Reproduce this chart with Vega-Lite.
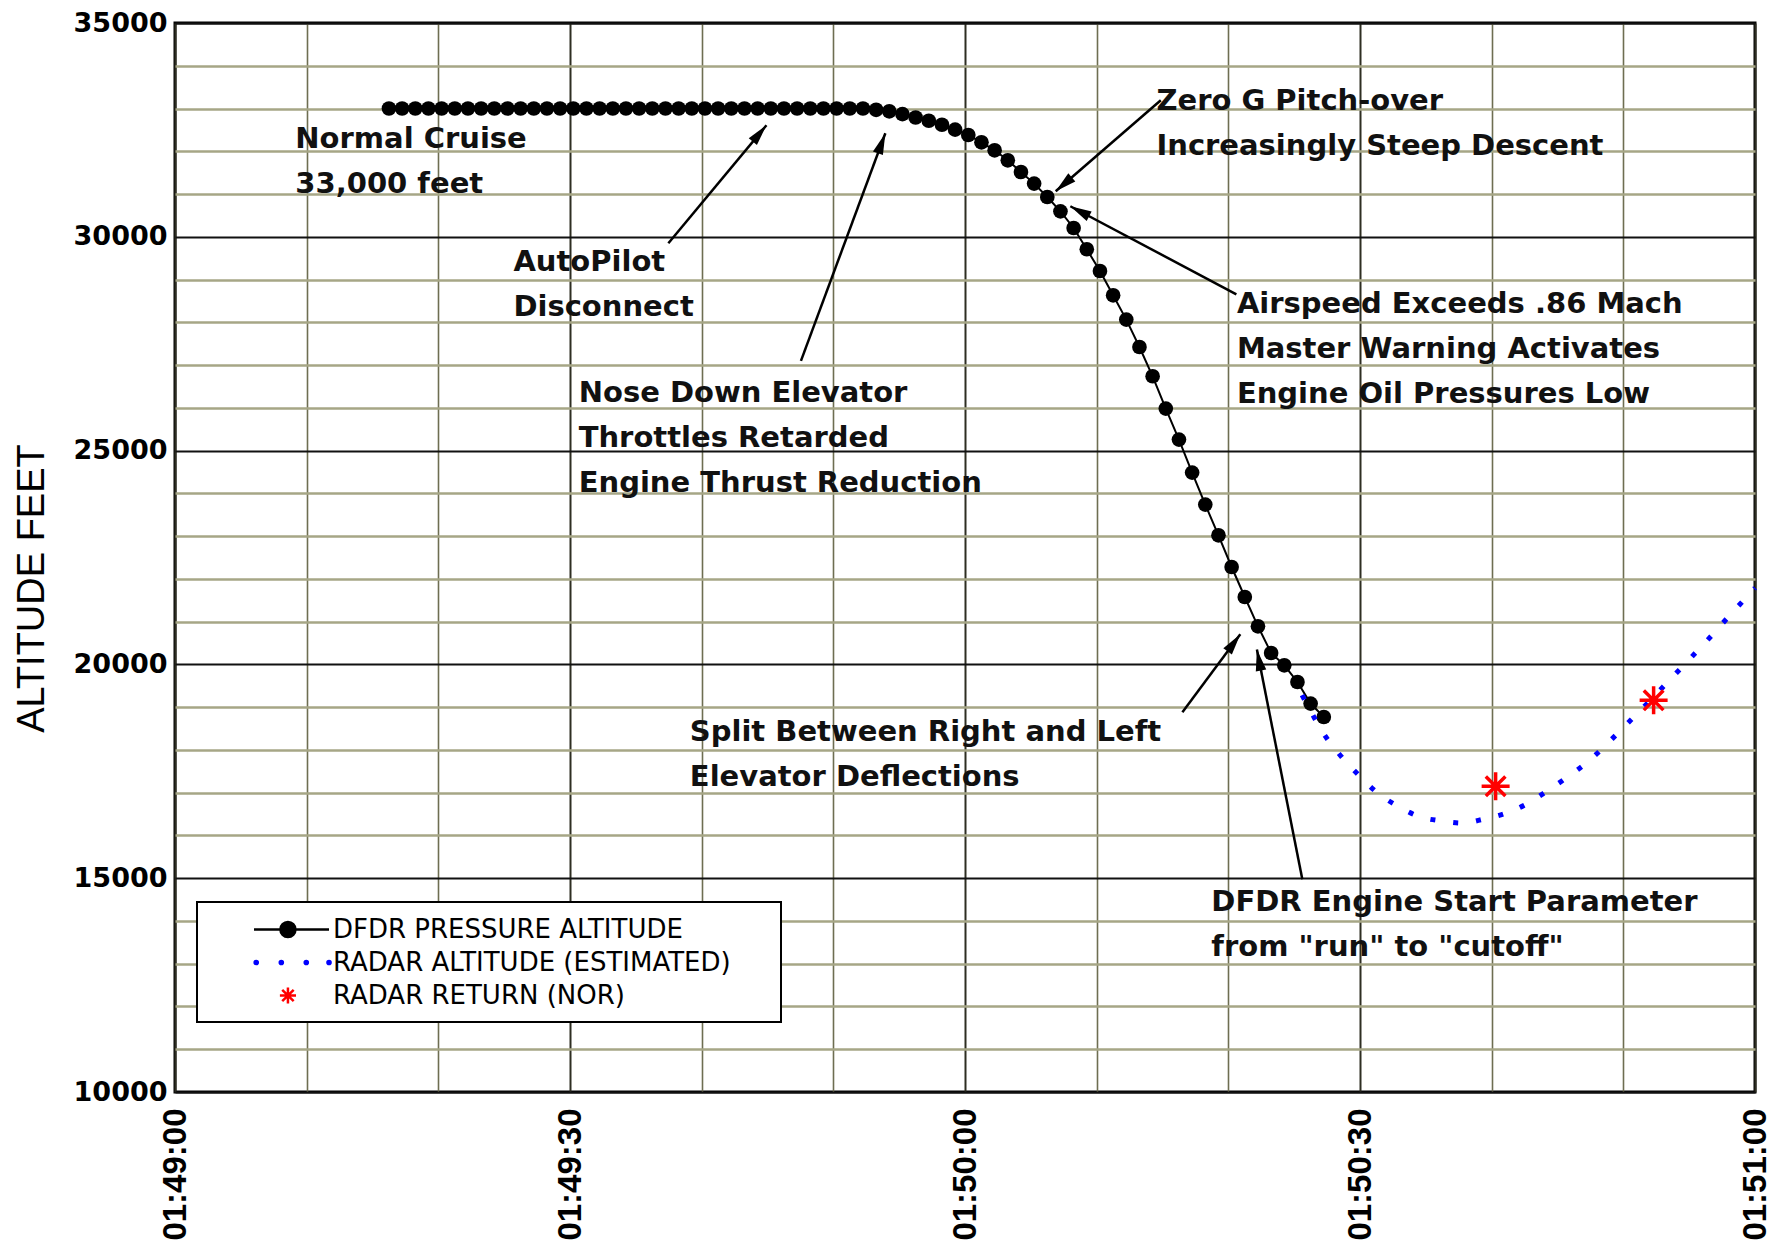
{
  "$schema": "https://vega.github.io/schema/vega-lite/v6.json",
  "width": 1580,
  "height": 1069,
  "autosize": {"type": "none"},
  "padding": {"left": 175, "top": 23, "right": 23, "bottom": 154},
  "background": "white",
  "config": {
    "view": {"stroke": "black", "strokeWidth": 3},
    "legend": {"strokeWidth": 2}
  },
  "datasets": {
    "dfdr": [
      {"t": "2000-01-01T01:49:16.250", "alt": 33000}, {"t": "2000-01-01T01:49:17.250", "alt": 33000},
      {"t": "2000-01-01T01:49:18.250", "alt": 33000}, {"t": "2000-01-01T01:49:19.250", "alt": 33000},
      {"t": "2000-01-01T01:49:20.250", "alt": 33000}, {"t": "2000-01-01T01:49:21.250", "alt": 33000},
      {"t": "2000-01-01T01:49:22.250", "alt": 33000}, {"t": "2000-01-01T01:49:23.250", "alt": 33000},
      {"t": "2000-01-01T01:49:24.250", "alt": 33000}, {"t": "2000-01-01T01:49:25.250", "alt": 33000},
      {"t": "2000-01-01T01:49:26.250", "alt": 33000}, {"t": "2000-01-01T01:49:27.250", "alt": 33000},
      {"t": "2000-01-01T01:49:28.250", "alt": 33000}, {"t": "2000-01-01T01:49:29.250", "alt": 33000},
      {"t": "2000-01-01T01:49:30.250", "alt": 33000}, {"t": "2000-01-01T01:49:31.250", "alt": 33000},
      {"t": "2000-01-01T01:49:32.250", "alt": 33000}, {"t": "2000-01-01T01:49:33.250", "alt": 33000},
      {"t": "2000-01-01T01:49:34.250", "alt": 33000}, {"t": "2000-01-01T01:49:35.250", "alt": 33000},
      {"t": "2000-01-01T01:49:36.250", "alt": 33000}, {"t": "2000-01-01T01:49:37.250", "alt": 33000},
      {"t": "2000-01-01T01:49:38.250", "alt": 33000}, {"t": "2000-01-01T01:49:39.250", "alt": 33000},
      {"t": "2000-01-01T01:49:40.250", "alt": 33000}, {"t": "2000-01-01T01:49:41.250", "alt": 33000},
      {"t": "2000-01-01T01:49:42.250", "alt": 33000}, {"t": "2000-01-01T01:49:43.250", "alt": 33000},
      {"t": "2000-01-01T01:49:44.250", "alt": 33000}, {"t": "2000-01-01T01:49:45.250", "alt": 33000},
      {"t": "2000-01-01T01:49:46.250", "alt": 33000}, {"t": "2000-01-01T01:49:47.250", "alt": 33000},
      {"t": "2000-01-01T01:49:48.250", "alt": 33000}, {"t": "2000-01-01T01:49:49.250", "alt": 33000},
      {"t": "2000-01-01T01:49:50.250", "alt": 33000}, {"t": "2000-01-01T01:49:51.250", "alt": 33000},
      {"t": "2000-01-01T01:49:52.250", "alt": 33000}, {"t": "2000-01-01T01:49:53.250", "alt": 32970},
      {"t": "2000-01-01T01:49:54.250", "alt": 32935}, {"t": "2000-01-01T01:49:55.250", "alt": 32870},
      {"t": "2000-01-01T01:49:56.250", "alt": 32790}, {"t": "2000-01-01T01:49:57.250", "alt": 32715},
      {"t": "2000-01-01T01:49:58.250", "alt": 32620}, {"t": "2000-01-01T01:49:59.250", "alt": 32505},
      {"t": "2000-01-01T01:50:00.250", "alt": 32380}, {"t": "2000-01-01T01:50:01.250", "alt": 32210},
      {"t": "2000-01-01T01:50:02.250", "alt": 32023}, {"t": "2000-01-01T01:50:03.250", "alt": 31789},
      {"t": "2000-01-01T01:50:04.250", "alt": 31515}, {"t": "2000-01-01T01:50:05.250", "alt": 31244},
      {"t": "2000-01-01T01:50:06.250", "alt": 30931}, {"t": "2000-01-01T01:50:07.250", "alt": 30596},
      {"t": "2000-01-01T01:50:08.250", "alt": 30206}, {"t": "2000-01-01T01:50:09.250", "alt": 29708},
      {"t": "2000-01-01T01:50:10.250", "alt": 29200}, {"t": "2000-01-01T01:50:11.250", "alt": 28632},
      {"t": "2000-01-01T01:50:12.250", "alt": 28064}, {"t": "2000-01-01T01:50:13.250", "alt": 27423},
      {"t": "2000-01-01T01:50:14.250", "alt": 26738}, {"t": "2000-01-01T01:50:15.250", "alt": 25982},
      {"t": "2000-01-01T01:50:16.250", "alt": 25257}, {"t": "2000-01-01T01:50:17.250", "alt": 24486},
      {"t": "2000-01-01T01:50:18.250", "alt": 23737}, {"t": "2000-01-01T01:50:19.250", "alt": 23019},
      {"t": "2000-01-01T01:50:20.250", "alt": 22278}, {"t": "2000-01-01T01:50:21.250", "alt": 21576},
      {"t": "2000-01-01T01:50:22.250", "alt": 20891}, {"t": "2000-01-01T01:50:23.250", "alt": 20267},
      {"t": "2000-01-01T01:50:24.250", "alt": 19979}, {"t": "2000-01-01T01:50:25.250", "alt": 19589},
      {"t": "2000-01-01T01:50:26.250", "alt": 19084}, {"t": "2000-01-01T01:50:27.250", "alt": 18770}
    ],
    "radar": [
      {"t": "2000-01-01T01:50:25.600", "alt": 19280}, {"t": "2000-01-01T01:50:26.180", "alt": 18950},
      {"t": "2000-01-01T01:50:27.120", "alt": 18436}, {"t": "2000-01-01T01:50:28.330", "alt": 17938},
      {"t": "2000-01-01T01:50:29.780", "alt": 17447}, {"t": "2000-01-01T01:50:31.300", "alt": 17002},
      {"t": "2000-01-01T01:50:32.990", "alt": 16665}, {"t": "2000-01-01T01:50:34.590", "alt": 16432},
      {"t": "2000-01-01T01:50:36.230", "alt": 16338}, {"t": "2000-01-01T01:50:37.750", "alt": 16291},
      {"t": "2000-01-01T01:50:39.350", "alt": 16378}, {"t": "2000-01-01T01:50:40.990", "alt": 16511},
      {"t": "2000-01-01T01:50:42.560", "alt": 16721}, {"t": "2000-01-01T01:50:44.210", "alt": 17040},
      {"t": "2000-01-01T01:50:45.730", "alt": 17360}, {"t": "2000-01-01T01:50:47.440", "alt": 17758},
      {"t": "2000-01-01T01:50:48.960", "alt": 18202}, {"t": "2000-01-01T01:50:50.480", "alt": 18670},
      {"t": "2000-01-01T01:50:52.050", "alt": 19161}, {"t": "2000-01-01T01:50:53.620", "alt": 19668},
      {"t": "2000-01-01T01:50:55.140", "alt": 20159}, {"t": "2000-01-01T01:50:56.660", "alt": 20657},
      {"t": "2000-01-01T01:50:58.130", "alt": 21165}, {"t": "2000-01-01T01:50:59.650", "alt": 21670},
      {"t": "2000-01-01T01:51:00.000", "alt": 21790}
    ],
    "returns": [
      {"t": "2000-01-01T01:50:40.300", "alt": 17150},
      {"t": "2000-01-01T01:50:52.300", "alt": 19160}
    ],
    "arrows": [
      {"t1": "2000-01-01T01:49:37.470", "a1": 29848, "t2": "2000-01-01T01:49:44.920", "a2": 32608},
      {"t1": "2000-01-01T01:49:47.540", "a1": 27098, "t2": "2000-01-01T01:49:53.950", "a2": 32421},
      {"t1": "2000-01-01T01:50:14.870", "a1": 33192, "t2": "2000-01-01T01:50:06.890", "a2": 31064},
      {"t1": "2000-01-01T01:50:20.610", "a1": 28655, "t2": "2000-01-01T01:50:08.000", "a2": 30714},
      {"t1": "2000-01-01T01:50:16.510", "a1": 18880, "t2": "2000-01-01T01:50:20.910", "a2": 20704},
      {"t1": "2000-01-01T01:50:25.620", "a1": 14974, "t2": "2000-01-01T01:50:22.170", "a2": 20346}
    ],
    "notes": [
      {"t": "2000-01-01T01:49:09.140", "alt": 32070, "label": "Normal Cruise\n33,000 feet"},
      {"t": "2000-01-01T01:49:25.700", "alt": 29193, "label": "AutoPilot\nDisconnect"},
      {"t": "2000-01-01T01:49:30.660", "alt": 26130, "label": "Nose Down Elevator\nThrottles Retarded\nEngine Thrust Reduction"},
      {"t": "2000-01-01T01:50:14.540", "alt": 32958, "label": "Zero G Pitch-over\nIncreasingly Steep Descent"},
      {"t": "2000-01-01T01:50:20.650", "alt": 28211, "label": "Airspeed Exceeds .86 Mach\nMaster Warning Activates\nEngine Oil Pressures Low"},
      {"t": "2000-01-01T01:49:39.100", "alt": 18202, "label": "Split Between Right and Left\nElevator Deflections"},
      {"t": "2000-01-01T01:50:18.710", "alt": 14236, "label": "DFDR Engine Start Parameter\nfrom \"run\" to \"cutoff\""}
    ],
    "series": [
      {"series": "DFDR PRESSURE ALTITUDE"},
      {"series": "RADAR ALTITUDE (ESTIMATED)"},
      {"series": "RADAR RETURN (NOR)"}
    ]
  },
  "layer": [
    {
      "data": {"name": "dfdr"},
      "mark": {"type": "line", "color": "black", "strokeWidth": 2},
      "encoding": {
        "x": {
          "field": "t", "type": "temporal",
          "scale": {"domain": [
            {"year": 2000, "month": 1, "date": 1, "hours": 1, "minutes": 49, "seconds": 0},
            {"year": 2000, "month": 1, "date": 1, "hours": 1, "minutes": 51, "seconds": 0}
          ]},
          "axis": {
            "values": [
              {"year": 2000, "month": 1, "date": 1, "hours": 1, "minutes": 49, "seconds": 0},
              {"year": 2000, "month": 1, "date": 1, "hours": 1, "minutes": 49, "seconds": 10},
              {"year": 2000, "month": 1, "date": 1, "hours": 1, "minutes": 49, "seconds": 20},
              {"year": 2000, "month": 1, "date": 1, "hours": 1, "minutes": 49, "seconds": 30},
              {"year": 2000, "month": 1, "date": 1, "hours": 1, "minutes": 49, "seconds": 40},
              {"year": 2000, "month": 1, "date": 1, "hours": 1, "minutes": 49, "seconds": 50},
              {"year": 2000, "month": 1, "date": 1, "hours": 1, "minutes": 50, "seconds": 0},
              {"year": 2000, "month": 1, "date": 1, "hours": 1, "minutes": 50, "seconds": 10},
              {"year": 2000, "month": 1, "date": 1, "hours": 1, "minutes": 50, "seconds": 20},
              {"year": 2000, "month": 1, "date": 1, "hours": 1, "minutes": 50, "seconds": 30},
              {"year": 2000, "month": 1, "date": 1, "hours": 1, "minutes": 50, "seconds": 40},
              {"year": 2000, "month": 1, "date": 1, "hours": 1, "minutes": 50, "seconds": 50},
              {"year": 2000, "month": 1, "date": 1, "hours": 1, "minutes": 51, "seconds": 0}
            ],
            "format": "%H:%M:%S",
            "labelExpr": "seconds(datum.value) % 30 === 0 ? datum.label : ''",
            "labelAngle": 270,
            "labelFont": "Liberation Sans",
            "labelFontWeight": "bold",
            "labelFontSize": 33,
            "labelColor": "black",
            "labelPadding": 16,
            "labelOverlap": false,
            "labelFlush": false,
            "ticks": false,
            "domain": false,
            "title": null,
            "grid": true,
            "gridColor": {"condition": {"test": "seconds(datum.value) % 30 === 0", "value": "#2e2e22"}, "value": "#6e6e52"},
            "gridWidth": {"condition": {"test": "seconds(datum.value) % 30 === 0", "value": 2}, "value": 1.6}
          }
        },
        "y": {
          "field": "alt", "type": "quantitative",
          "scale": {"domain": [10000, 35000], "nice": false, "zero": false},
          "axis": {
            "values": [10000, 11000, 12000, 13000, 14000, 15000, 16000, 17000, 18000, 19000, 20000, 21000, 22000, 23000, 24000, 25000, 26000, 27000, 28000, 29000, 30000, 31000, 32000, 33000, 34000, 35000],
            "format": "d",
            "labelExpr": "datum.value % 5000 === 0 ? datum.label : ''",
            "labelFont": "DejaVu Sans",
            "labelFontWeight": "bold",
            "labelFontSize": 27,
            "labelColor": "black",
            "labelPadding": 8,
            "labelOverlap": false,
            "labelFlush": false,
            "ticks": false,
            "domain": false,
            "grid": true,
            "gridColor": {"condition": {"test": "datum.value % 5000 === 0", "value": "#111111"}, "value": "#a6a686"},
            "gridWidth": {"condition": {"test": "datum.value % 5000 === 0", "value": 2}, "value": 2.6},
            "title": "ALTITUDE FEET",
            "titleFont": "Liberation Sans",
            "titleFontSize": 38,
            "titleFontWeight": "normal",
            "titleColor": "black",
            "titleAngle": 270,
            "titleX": -143,
            "titleY": 565,
            "titleAlign": "center",
            "titleBaseline": "middle"
          }
        }
      }
    },
    {
      "data": {"name": "dfdr"},
      "mark": {"type": "point", "filled": true, "color": "black", "opacity": 1, "size": 215, "strokeWidth": 0},
      "encoding": {
        "x": {"field": "t", "type": "temporal"},
        "y": {"field": "alt", "type": "quantitative"}
      }
    },
    {
      "data": {"name": "radar"},
      "mark": {"type": "line", "color": "blue", "strokeWidth": 5, "strokeDash": [5, 18], "interpolate": "monotone"},
      "encoding": {
        "x": {"field": "t", "type": "temporal"},
        "y": {"field": "alt", "type": "quantitative"}
      }
    },
    {
      "data": {"name": "returns"},
      "mark": {"type": "point", "shape": "M0,-1L0,1M-1,0L1,0M-0.7,-0.7L0.7,0.7M-0.7,0.7L0.7,-0.7", "filled": false, "color": "red", "strokeWidth": 3.5, "size": 784, "opacity": 1},
      "encoding": {
        "x": {"field": "t", "type": "temporal"},
        "y": {"field": "alt", "type": "quantitative"}
      }
    },
    {
      "data": {"name": "arrows"},
      "mark": {"type": "rule", "color": "black", "strokeWidth": 2.5},
      "encoding": {
        "x": {"field": "t1", "type": "temporal"},
        "x2": {"field": "t2"},
        "y": {"field": "a1", "type": "quantitative"},
        "y2": {"field": "a2"}
      }
    },
    {
      "data": {"name": "arrows"},
      "transform": [
        {"calculate": "atan2((time(datum.t2) - time(datum.t1)) / 1000 * 13.1667, (datum.a2 - datum.a1) * 0.04276) * 180 / PI", "as": "ang"}
      ],
      "mark": {"type": "point", "shape": "M0,0L-0.9,3.6L0.9,3.6Z", "filled": true, "color": "black", "opacity": 1, "size": 140, "strokeWidth": 0},
      "encoding": {
        "x": {"field": "t2", "type": "temporal"},
        "y": {"field": "a2", "type": "quantitative"},
        "angle": {"field": "ang", "type": "quantitative", "scale": null}
      }
    },
    {
      "data": {"name": "notes"},
      "mark": {"type": "text", "align": "left", "baseline": "alphabetic", "font": "DejaVu Sans", "fontWeight": "bold", "fontSize": 29, "lineHeight": 45, "lineBreak": "\n", "color": "#111111"},
      "encoding": {
        "x": {"field": "t", "type": "temporal"},
        "y": {"field": "alt", "type": "quantitative"},
        "text": {"field": "label", "type": "nominal"}
      }
    },
    {
      "data": {"name": "series"},
      "mark": {"type": "point", "filled": true, "opacity": 1, "strokeWidth": 2.5},
      "encoding": {
        "x": {"field": "t", "type": "temporal"},
        "y": {"field": "alt", "type": "quantitative"},
        "fill": {
          "field": "series", "type": "nominal",
          "scale": {"domain": ["DFDR PRESSURE ALTITUDE", "RADAR ALTITUDE (ESTIMATED)", "RADAR RETURN (NOR)"], "range": ["black", "blue", "red"]},
          "legend": {"title": null, "orient": "none", "legendX": 22, "legendY": 879, "padding": 13, "strokeColor": "black", "fillColor": "white", "symbolSize": 676, "symbolStrokeWidth": 2.5, "labelFont": "DejaVu Sans", "labelFontSize": 26, "labelColor": "black", "labelOffset": 94, "rowPadding": 5, "labelLimit": 1000, "symbolOpacity": 1}
        },
        "stroke": {
          "field": "series", "type": "nominal",
          "scale": {"domain": ["DFDR PRESSURE ALTITUDE", "RADAR ALTITUDE (ESTIMATED)", "RADAR RETURN (NOR)"], "range": ["black", "blue", "red"]},
          "legend": {"title": null, "orient": "none", "legendX": 22, "legendY": 879, "padding": 13, "strokeColor": "black", "fillColor": "white", "symbolSize": 676, "symbolStrokeWidth": 2.5, "labelFont": "DejaVu Sans", "labelFontSize": 26, "labelColor": "black", "labelOffset": 94, "rowPadding": 5, "labelLimit": 1000, "symbolOpacity": 1}
        },
        "shape": {
          "field": "series", "type": "nominal",
          "scale": {"domain": ["DFDR PRESSURE ALTITUDE", "RADAR ALTITUDE (ESTIMATED)", "RADAR RETURN (NOR)"], "range": [
            "M2.27,0L8.04,0M4.30,0A0.58,0.58 0 1,0 5.46,0A0.58,0.58 0 1,0 4.30,0ZM41.4,0",
            "M2.32,0A0.12,0.12 0 1,0 2.56,0A0.12,0.12 0 1,0 2.32,0ZM4.25,0A0.12,0.12 0 1,0 4.49,0A0.12,0.12 0 1,0 4.25,0ZM6.17,0A0.12,0.12 0 1,0 6.41,0A0.12,0.12 0 1,0 6.17,0ZM7.92,0A0.12,0.12 0 1,0 8.16,0A0.12,0.12 0 1,0 7.92,0Z",
            "M4.88,-0.62L4.88,0.62M4.26,0L5.50,0M4.44,-0.44L5.32,0.44M4.44,0.44L5.32,-0.44"
          ]},
          "legend": {"title": null, "orient": "none", "legendX": 22, "legendY": 879, "padding": 13, "strokeColor": "black", "fillColor": "white", "symbolSize": 676, "symbolStrokeWidth": 2.5, "labelFont": "DejaVu Sans", "labelFontSize": 26, "labelColor": "black", "labelOffset": 94, "rowPadding": 5, "labelLimit": 1000, "symbolOpacity": 1}
        }
      }
    }
  ]
}
